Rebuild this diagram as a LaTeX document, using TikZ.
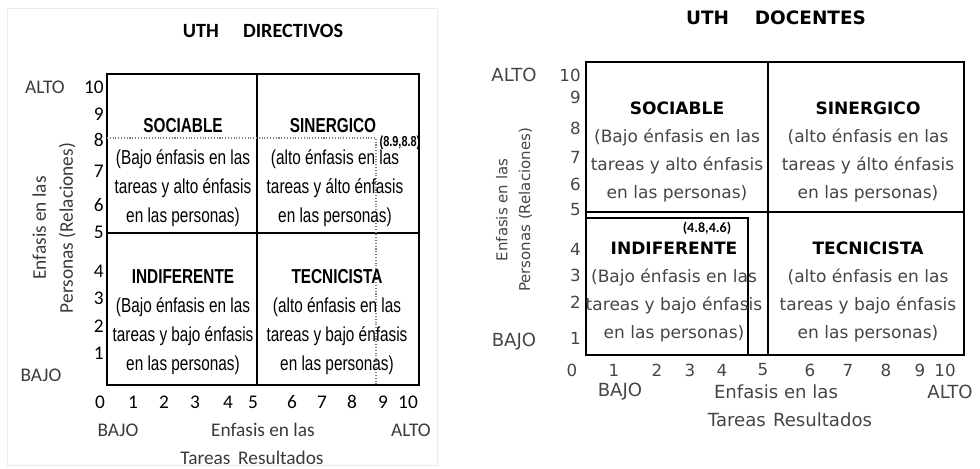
\documentclass[tikz,border=0pt]{standalone}
\usepackage{fontspec}
\setmainfont{Carlito}
\newfontfamily\narrowfont[FakeStretch=0.76]{Liberation Sans}
\newfontfamily\verdfont{DejaVu Sans}
\definecolor{axisgray}{HTML}{3A3A3A}
\definecolor{docgray}{HTML}{454545}
\tikzset{
  frame line/.style ={draw, line width=1.1pt},
  split line/.style ={draw, line width=1.5pt},
  guide line/.style ={draw=gray, densely dotted, line width=0.6pt},
  quad title/.style ={inner sep=0pt, font=\narrowfont\bfseries\fontsize{11.5}{11.5}\selectfont},
  quad box/.style ={align=center, inner sep=0pt,
                    font=\narrowfont\fontsize{11.5}{16.5}\selectfont},
  doc box/.style ={align=center, inner sep=0pt, text=docgray,
                   font=\verdfont\fontsize{9.7}{15.9}\selectfont},
  tick dir/.style ={inner sep=0pt, font=\fontsize{11}{11}\selectfont},
  tick doc/.style ={inner sep=0pt, text=docgray, font=\verdfont\fontsize{9.5}{9.5}\selectfont},
  axis dir/.style ={inner sep=0pt, text=axisgray, font=\fontsize{11}{15.5}\selectfont},
  axis doc/.style ={inner sep=0pt, text=docgray, align=center, font=\verdfont\fontsize{10.3}{13}\selectfont},
}
\begin{document}
\begin{tikzpicture}[x=0.02cm, y=-0.02cm]
\useasboundingbox (0,0) rectangle (980,469);

% --- UTH directivos ---
\draw[black!8] (7,8) rectangle (437,465);
\node[font=\bfseries\fontsize{11.5}{11.5}\selectfont] (titdir) at (263,31) {UTH\hspace{1.2em}DIRECTIVOS};
\path[frame line] (107,74) rectangle (419,385);
\path[split line] (257,74) -- (257,385);
\path[split line] (107,233) -- (419,233);
\path[guide line] (107,138) -- (376,138) -- (376,385);
\node[inner sep=0pt, font=\narrowfont\bfseries\fontsize{8.2}{8.2}\selectfont] (ptdir) at (400,143) {(8.9,8.8)};

\node[quad title] (sociable) at (183,126) {SOCIABLE};
\node[quad box] (sociabletxt) at (183,188) {(Bajo énfasis en las\\tareas y alto énfasis\\en las personas)};
\node[quad title] (sinergico) at (333,126) {SINERGICO};
\node[quad box] (sinergicotxt) at (335,188) {(alto énfasis en las\\tareas y álto énfasis\\en las personas)};
\node[quad title] (indiferente) at (183,277) {INDIFERENTE};
\node[quad box] (indiferentetxt) at (183,336.5) {(Bajo énfasis en las\\tareas y bajo énfasis\\en las personas)};
\node[quad title] (tecnicista) at (337,277) {TECNICISTA};
\node[quad box] (tecnicistatxt) at (337,336.5) {(alto énfasis en las\\tareas y bajo énfasis\\en las personas)};

\foreach \v/\p in {0/100,1/133,2/164,3/195,4/228,5/253,6/292,7/322,8/352,9/383,10/408}
  \node[tick dir] (dx\v) at (\p,402) {\v};
\foreach \v/\q in {10/87,9/114,8/140,7/171,6/205,5/232,4/271,3/298,2/326,1/353}
  \node[tick dir, anchor=east] (dy\v) at (104,\q) {\v};

\node[axis dir] (altody) at (45,87) {ALTO};
\node[axis dir] (bajody) at (41,375) {BAJO};
\node[axis dir, rotate=90, align=center] (ejeydir) at (54,228) {Enfasis en las\\Personas (Relaciones)};
\node[axis dir] (bajodx) at (118,430) {BAJO};
\node[axis dir] (ejexdir) at (263,430) {Enfasis en las};
\node[axis dir] (altodx) at (411,430) {ALTO};
\node[axis dir] (tareasdir) at (252,458) {Tareas\hspace{0.4em}Resultados};

% --- UTH docentes ---
\node[font=\verdfont\bfseries\fontsize{10.5}{10.5}\selectfont] (titdoc) at (776,18) {UTH\hspace{1.4em}DOCENTES};
\path[frame line] (586,62) rectangle (964,355);
\path[split line] (768,62) -- (768,355);
\path[split line] (586,212) -- (964,212);
\draw[line width=0.9pt] (586,218) rectangle (748,355);
\node[inner sep=0pt, font=\fontsize{8}{8}\selectfont\bfseries\rmfamily] (ptdoc) at (707,228) {(4.8,4.6)};

\node[doc box] (sociable2) at (677,152) {\textcolor{black}{\bfseries SOCIABLE}\\(Bajo énfasis en las\\tareas y alto énfasis\\en las personas)};
\node[doc box] (sinergico2) at (868,152) {\textcolor{black}{\bfseries SINERGICO}\\(alto énfasis en las\\tareas y álto énfasis\\en las personas)};
\node[doc box] (indiferente2) at (674,292) {\textcolor{black}{\bfseries INDIFERENTE}\\(Bajo énfasis en las\\tareas y bajo énfasis\\en las personas)};
\node[doc box] (tecnicista2) at (868,292) {\textcolor{black}{\bfseries TECNICISTA}\\(alto énfasis en las\\tareas y bajo énfasis\\en las personas)};

\foreach \v/\p in {0/572,1/614,2/657,3/690,4/722,5/763,6/810,7/848,8/886,9/920,10/945}
  \node[tick doc] (cx\v) at (\p,370) {\v};
\foreach \v/\q in {10/75,9/97,8/128,7/157,6/184,5/210,4/249,3/275,2/302,1/338}
  \node[tick doc, anchor=east] (cy\v) at (581,\q) {\v};

\node[axis doc] (altocy) at (514,75) {ALTO};
\node[axis doc] (bajocy) at (514,342) {BAJO};
\node[axis doc, rotate=90, font=\verdfont\fontsize{8.5}{13}\selectfont] (ejeydoc) at (514,210) {Enfasis en las\\Personas (Relaciones)};
\node[axis doc] (bajocx) at (620,392) {BAJO};
\node[axis doc] (ejexdoc) at (776,392) {Enfasis en las};
\node[axis doc] (altocx) at (950,392) {ALTO};
\node[axis doc] (tareasdoc) at (790,420) {Tareas\hspace{0.4em}Resultados};
\end{tikzpicture}
\end{document}
